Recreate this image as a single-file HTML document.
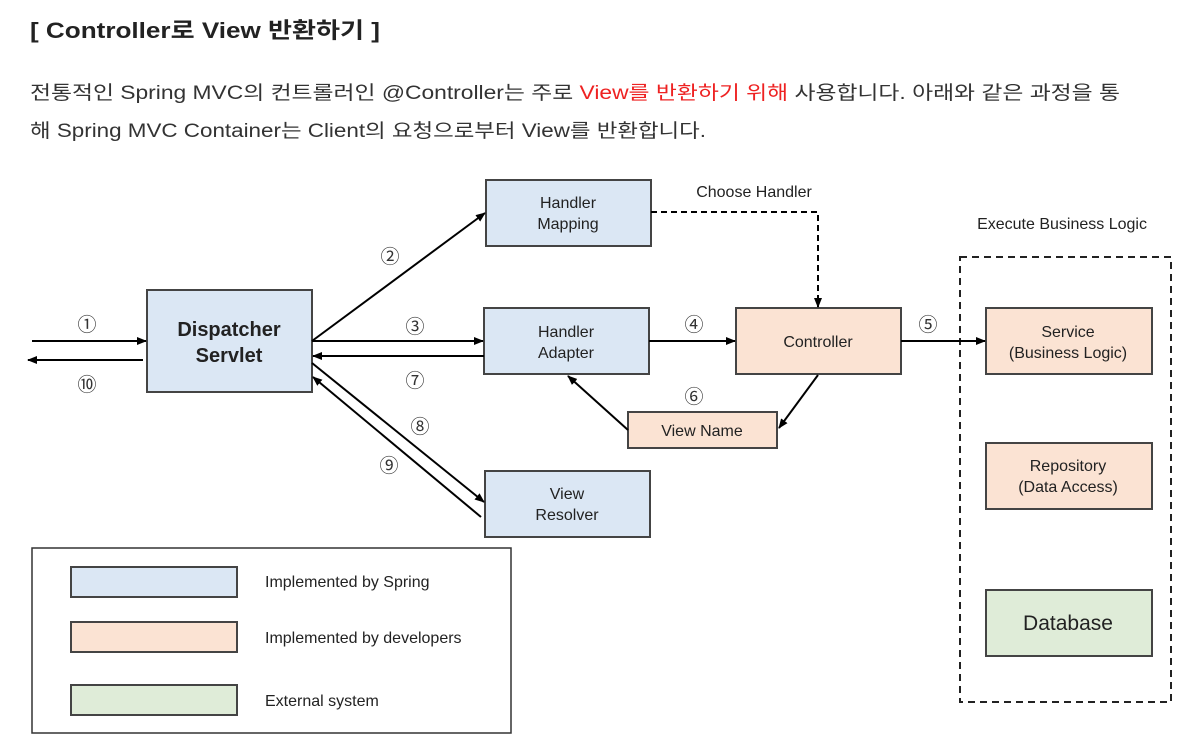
<!DOCTYPE html>
<html><head><meta charset="utf-8"><style>
html,body{margin:0;padding:0;background:#fff;width:1202px;height:741px;overflow:hidden}
svg{display:block}
.k{font-family:"Liberation Sans","Noto Sans CJK KR",sans-serif}
.d{font-family:"Liberation Sans",Arial,sans-serif;fill:#222}
</style></head><body>
<svg width="1202" height="741" viewBox="0 0 1202 741" xmlns="http://www.w3.org/2000/svg">
<defs>
<marker id="a" markerWidth="10" markerHeight="8" refX="9" refY="4" orient="auto" markerUnits="userSpaceOnUse">
<path d="M0,0 L10,4 L0,8 z" fill="#000"/></marker>
</defs>
<text class="k" x="30" y="38" font-size="22" font-weight="bold" fill="#222" textLength="350" lengthAdjust="spacingAndGlyphs">[ Controller로 View 반환하기 ]</text>
<text class="k" x="30" y="99" font-size="19" fill="#333" textLength="1090" lengthAdjust="spacingAndGlyphs">전통적인 Spring MVC의 컨트롤러인 @Controller는 주로 <tspan fill="#ee2222">View를 반환하기 위해</tspan> 사용합니다. 아래와 같은 과정을 통</text>
<text class="k" x="30" y="137" font-size="19" fill="#333" textLength="676" lengthAdjust="spacingAndGlyphs">해 Spring MVC Container는 Client의 요청으로부터 View를 반환합니다.</text>

<g stroke="#444" stroke-width="2">
<rect x="147" y="290" width="165" height="102" fill="#dbe7f4"/>
<rect x="486" y="180" width="165" height="66" fill="#dbe7f4"/>
<rect x="484" y="308" width="165" height="66" fill="#dbe7f4"/>
<rect x="485" y="471" width="165" height="66" fill="#dbe7f4"/>
<rect x="736" y="308" width="165" height="66" fill="#fbe3d3"/>
<rect x="628" y="412" width="149" height="36" fill="#fbe3d3"/>
<rect x="986" y="308" width="166" height="66" fill="#fbe3d3"/>
<rect x="986" y="443" width="166" height="66" fill="#fbe3d3"/>
<rect x="986" y="590" width="166" height="66" fill="#dfecd8"/>
<rect x="71" y="567" width="166" height="30" fill="#dbe7f4"/>
<rect x="71" y="622" width="166" height="30" fill="#fbe3d3"/>
<rect x="71" y="685" width="166" height="30" fill="#dfecd8"/>
</g>
<rect x="32" y="548" width="479" height="185" fill="none" stroke="#333" stroke-width="1.5"/>
<rect x="960" y="257" width="211" height="445" fill="none" stroke="#222" stroke-width="2" stroke-dasharray="7,5"/>

<g stroke="#000" stroke-width="2" fill="none" marker-end="url(#a)">
<line x1="32" y1="341" x2="146" y2="341"/>
<line x1="143" y1="360" x2="28" y2="360"/>
<line x1="312" y1="341" x2="485" y2="213"/>
<line x1="312" y1="341" x2="483" y2="341"/>
<line x1="484" y1="356" x2="313" y2="356"/>
<line x1="312" y1="363" x2="484" y2="502"/>
<line x1="481" y1="517" x2="313" y2="377"/>
<line x1="649" y1="341" x2="735" y2="341"/>
<line x1="901" y1="341" x2="985" y2="341"/>
<line x1="818" y1="375" x2="779" y2="428"/>
<line x1="628" y1="430" x2="568" y2="376"/>
<polyline points="651,212 818,212 818,307" stroke-dasharray="6,4"/>
</g>

<g class="d" font-size="16" text-anchor="middle">
<text x="229" y="336" font-size="20" font-weight="bold">Dispatcher</text>
<text x="229" y="362" font-size="20" font-weight="bold">Servlet</text>
<text x="568" y="208">Handler</text><text x="568" y="229">Mapping</text>
<text x="566" y="337">Handler</text><text x="566" y="358">Adapter</text>
<text x="567" y="499">View</text><text x="567" y="520">Resolver</text>
<text x="818" y="347">Controller</text>
<text x="702" y="436">View Name</text>
<text x="1068" y="337">Service</text><text x="1068" y="358">(Business Logic)</text>
<text x="1068" y="471">Repository</text><text x="1068" y="492">(Data Access)</text>
<text x="1068" y="630" font-size="21">Database</text>
<text x="754" y="197">Choose Handler</text>
<text x="1062" y="229">Execute Business Logic</text>
</g>
<g class="d" font-size="16">
<text x="265" y="587">Implemented by Spring</text>
<text x="265" y="643">Implemented by developers</text>
<text x="265" y="706">External system</text>
</g>
<g class="k" font-size="19" fill="#333" text-anchor="middle">
<text x="87" y="331">①</text>
<text x="87" y="391">⑩</text>
<text x="390" y="263">②</text>
<text x="415" y="333">③</text>
<text x="415" y="387">⑦</text>
<text x="420" y="433">⑧</text>
<text x="389" y="472">⑨</text>
<text x="694" y="331">④</text>
<text x="928" y="331">⑤</text>
<text x="694" y="403">⑥</text>
</g>
</svg>
</body></html>
